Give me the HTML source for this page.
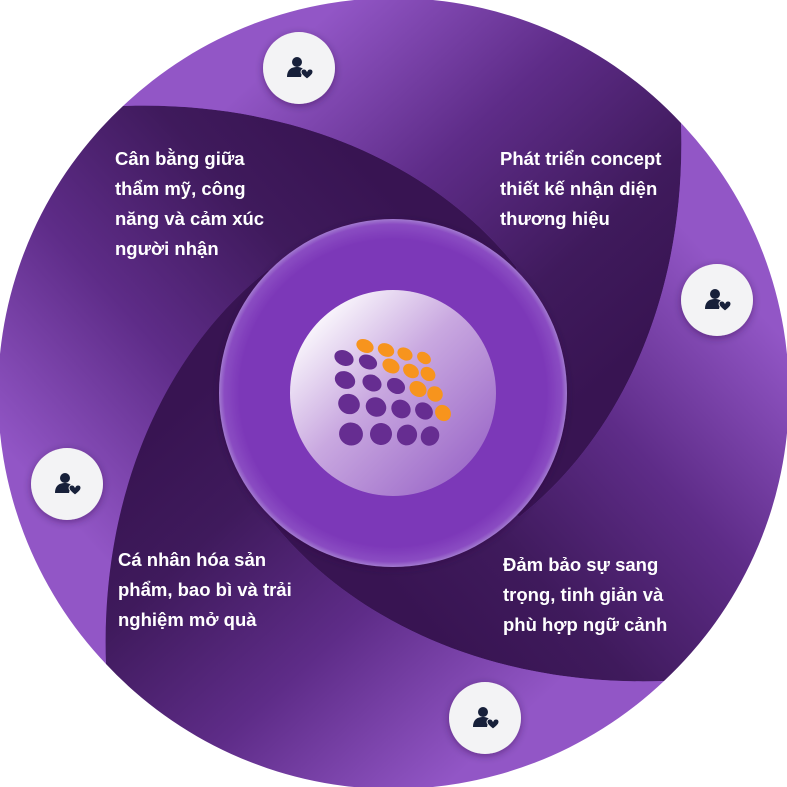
<!DOCTYPE html>
<html><head><meta charset="utf-8"><style>
html,body{margin:0;padding:0;background:#fff;}
.w{position:relative;width:787px;height:787px;overflow:hidden;}
.t{position:absolute;color:#fff;font-family:"Liberation Sans",sans-serif;font-weight:bold;font-size:18.5px;line-height:30px;letter-spacing:0px;white-space:nowrap;}
</style></head><body><div class="w">
<svg width="787" height="787" viewBox="0 0 787 787" style="position:absolute;left:0;top:0">
<defs>
<linearGradient id="g" gradientUnits="userSpaceOnUse" x1="390" y1="190" x2="50" y2="500">
<stop offset="0" stop-color="#381452"/><stop offset="0.25" stop-color="#3f1a5c"/><stop offset="0.6" stop-color="#5e2c88"/><stop offset="1" stop-color="#9256c6"/>
</linearGradient>
<radialGradient id="mid" cx="0.5" cy="0.5" r="0.5">
<stop offset="0.88" stop-color="#7c37b8"/><stop offset="0.97" stop-color="#8a4cc2"/><stop offset="1" stop-color="#a27ad0"/>
</radialGradient>
<linearGradient id="inner" x1="0.1" y1="0.1" x2="0.9" y2="0.9">
<stop offset="0" stop-color="#ffffff"/><stop offset="0.45" stop-color="#c9a8e0"/><stop offset="1" stop-color="#9b68c8"/>
</linearGradient>
<filter id="sh" x="-20%" y="-20%" width="140%" height="140%"><feDropShadow dx="0" dy="2" stdDeviation="4" flood-color="#2a0c40" flood-opacity="0.45"/></filter>
<g id="ic">
<circle r="36" fill="#f3f3f5" filter="url(#sh)"/>
<circle cx="-2" cy="-6" r="5" fill="#17203a"/>
<path d="M-12,9 C-12,1 -7,-1 -2,-1 C1,-1 3,0 4,1 L2,9 Z" fill="#17203a"/>
<path d="M8,11 C4,8 2,6 2,4 C2,2 3.5,1 5,1 C6.5,1 7.5,2 8,3 C8.5,2 9.5,1 11,1 C12.5,1 14,2 14,4 C14,6 12,8 8,11 Z" fill="#17203a" stroke="#f3f3f5" stroke-width="1"/>
</g>
<path id="p" d="M123,106 C300,100 440,170 517,268 L393,393 L268,270 C170,347 100,487 106,664 A393,393 0 0 1 123,106 Z" fill="url(#g)"/>
</defs>
<circle cx="393.5" cy="393.5" r="393" fill="#7a40b4"/>
<use href="#p"/>
<use href="#p" transform="rotate(90 393.5 393.5)"/>
<use href="#p" transform="rotate(180 393.5 393.5)"/>
<use href="#p" transform="rotate(270 393.5 393.5)"/>
<circle cx="393" cy="393" r="174" fill="url(#mid)" filter="url(#sh)"/>
<circle cx="393" cy="393" r="103" fill="url(#inner)"/>
<g fill="#662d91">
<ellipse cx="344" cy="358" rx="10" ry="7.5" transform="rotate(25 344 358)"/>
<ellipse cx="368" cy="362" rx="9.5" ry="7" transform="rotate(25 368 362)"/>
<ellipse cx="345" cy="380" rx="10.5" ry="8.5" transform="rotate(25 345 380)"/>
<ellipse cx="372" cy="383" rx="10" ry="8" transform="rotate(30 372 383)"/>
<ellipse cx="396" cy="386" rx="9.5" ry="7.5" transform="rotate(30 396 386)"/>
<ellipse cx="349" cy="404" rx="11" ry="10" transform="rotate(25 349 404)"/>
<ellipse cx="376" cy="407" rx="10.5" ry="9.5" transform="rotate(30 376 407)"/>
<ellipse cx="401" cy="409" rx="10" ry="9" transform="rotate(35 401 409)"/>
<ellipse cx="424" cy="411" rx="9.5" ry="8" transform="rotate(40 424 411)"/>
<ellipse cx="351" cy="434" rx="12" ry="11.5" transform="rotate(20 351 434)"/>
<ellipse cx="381" cy="434" rx="11" ry="11" transform="rotate(30 381 434)"/>
<ellipse cx="407" cy="435" rx="10" ry="10.5" transform="rotate(30 407 435)"/>
<ellipse cx="430" cy="436" rx="9" ry="10" transform="rotate(30 430 436)"/>
</g>
<g fill="#f7941d">
<ellipse cx="365" cy="346" rx="9" ry="6.5" transform="rotate(25 365 346)"/>
<ellipse cx="386" cy="350" rx="8.5" ry="6.5" transform="rotate(25 386 350)"/>
<ellipse cx="405" cy="354" rx="8" ry="6" transform="rotate(30 405 354)"/>
<ellipse cx="424" cy="358" rx="7.5" ry="5.5" transform="rotate(35 424 358)"/>
<ellipse cx="391" cy="366" rx="9" ry="7" transform="rotate(30 391 366)"/>
<ellipse cx="411" cy="371" rx="8.5" ry="6.5" transform="rotate(35 411 371)"/>
<ellipse cx="428" cy="374" rx="8" ry="6.5" transform="rotate(40 428 374)"/>
<ellipse cx="418" cy="389" rx="9" ry="7.5" transform="rotate(35 418 389)"/>
<ellipse cx="435" cy="394" rx="8" ry="7.5" transform="rotate(45 435 394)"/>
<ellipse cx="443" cy="413" rx="8.5" ry="7.5" transform="rotate(50 443 413)"/>
</g>
<use href="#ic" x="299" y="68"/>
<use href="#ic" x="717" y="300"/>
<use href="#ic" x="67" y="484"/>
<use href="#ic" x="485" y="718"/>
</svg>
<div class="t" style="left:115px;top:144px">Cân bằng giữa<br>thẩm mỹ, công<br>năng và cảm xúc<br>người nhận</div>
<div class="t" style="left:500px;top:144px">Phát triển concept<br>thiết kế nhận diện<br>thương hiệu</div>
<div class="t" style="left:118px;top:545px">Cá nhân hóa sản<br>phẩm, bao bì và trải<br>nghiệm mở quà</div>
<div class="t" style="left:503px;top:550px">Đảm bảo sự sang<br>trọng, tinh giản và<br>phù hợp ngữ cảnh</div>
</div></body></html>
